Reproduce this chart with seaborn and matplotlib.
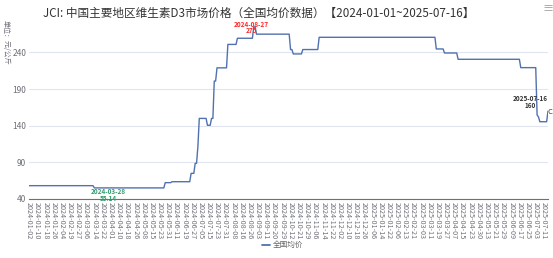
import numpy as np
import pandas as pd
import matplotlib
matplotlib.use("Agg")
import matplotlib.pyplot as plt
import seaborn as sns

# ---- data ----
tick_labels = ["2024-01-02","2024-01-10","2024-01-18","2024-01-26","2024-02-04","2024-02-19","2024-02-27",
               "2024-03-06","2024-03-14","2024-03-22","2024-04-01","2024-04-10","2024-04-18","2024-04-26",
               "2024-05-08","2024-05-15","2024-05-23","2024-05-31","2024-06-11","2024-06-19","2024-06-27",
               "2024-07-05","2024-07-15","2024-07-23","2024-07-31","2024-08-08","2024-08-16","2024-08-26",
               "2024-09-03","2024-09-11","2024-09-20","2024-09-29","2024-10-12","2024-10-21","2024-10-29",
               "2024-11-06","2024-11-14","2024-11-22","2024-12-02","2024-12-10","2024-12-18","2024-12-26",
               "2025-01-06","2025-01-14","2025-01-22","2025-02-06","2025-02-13","2025-02-21","2025-03-03",
               "2025-03-11","2025-03-19","2025-03-27","2025-04-07","2025-04-15","2025-04-23","2025-04-30",
               "2025-05-13","2025-05-21","2025-05-29","2025-06-09","2025-06-17","2025-06-25","2025-07-03",
               "2025-07-11"]
tick_step = 6  # trading days between labelled dates

# price runs: value held for a number of trading days (run-length of the step line)
run_values = [58.2, 55.14, 62.3, 63.6, 75.0, 88.7, 112.0, 150.0, 140.6, 150.0, 201.0, 219.0,
              251.0, 259.4, 275.0, 265.0, 244.0, 238.0, 244.0, 260.7, 244.8, 239.3, 230.7,
              219.3, 154.7, 152.0, 145.5, 160.0]
run_lengths = [48, 52, 5, 14, 3, 2, 1, 6, 3, 2, 2, 8,
               7, 12, 2, 25, 2, 7, 12, 86, 6, 10, 46,
               12, 1, 1, 6, 1]

max_label, max_value = "2024-08-27", 275
min_label, min_value = "2024-03-28", 55.14
last_label, last_value = "2025-07-16", 160
series_name = "全国均价"

prices = np.repeat(run_values, run_lengths)
df = pd.DataFrame({"idx": np.arange(len(prices)), "price": prices, "series": series_name})

# ---- style ----
sns.set_theme(style="white")
plt.rcParams["font.family"] = ["Noto Sans CJK SC", "DejaVu Sans"]

W, H = 553, 258
fig = plt.figure(figsize=(W / 100, H / 100), dpi=100)
left, right, bottom, top = 29, 548, 199, 25
ax = fig.add_axes([left / W, 1 - bottom / H, (right - left) / W, (bottom - top) / H])

line_color = "#5171b0"
sns.lineplot(data=df, x="idx", y="price", ax=ax, color=line_color, linewidth=1.0, legend=False)

ax.set_xlim(0, len(prices) - 1)
ax.set_ylim(40, 277.5)
ax.set_yticks([40, 90, 140, 190, 240])
ax.set_xticks(np.arange(len(tick_labels)) * tick_step)
ax.set_xticklabels(tick_labels, rotation=-90, fontsize=5.2, color="#6e7079")
ax.tick_params(axis="y", labelsize=6, colors="#6e7079", length=0, pad=2)
ax.tick_params(axis="x", length=0, pad=2)
ax.set_xlabel("")
ax.set_ylabel("")
ax.grid(axis="y", color="#e0e6f1", linewidth=0.8)
ax.grid(axis="x", visible=False)
for s in ["top", "right", "left"]:
    ax.spines[s].set_visible(False)
ax.spines["bottom"].set_color("#6e7079")
ax.spines["bottom"].set_linewidth(0.8)

# ---- mark points ----
ix_max = int(np.argmax(prices)) - 2
ix_min = (tick_labels.index("2024-03-22")) * tick_step + 4
ix_last = len(prices) - 1
ax.annotate(f"{max_label}\n{max_value}", (ix_max, max_value), xytext=(0, -0.5), textcoords="offset points",
            ha="center", va="center", fontsize=4.6, color="#ff2a2a", fontweight="bold",
            linespacing=0.95, annotation_clip=False)
ax.annotate(f"{min_label}\n{min_value}", (ix_min, min_value), xytext=(0, -0.3), textcoords="offset points",
            ha="center", va="top", fontsize=4.6, color="#2e9e6b", fontweight="bold",
            linespacing=0.95, annotation_clip=False)
ax.annotate(f"{last_label}\n{last_value}", (ix_last, last_value), xytext=(-12.5, 6.5), textcoords="offset points",
            ha="center", va="center", fontsize=4.6, color="#333333", fontweight="bold",
            linespacing=0.95, annotation_clip=False)
fig.text(547.5 / W, 1 - 112 / H, "C", ha="left", va="center", fontsize=5.5, color="#333333")

# ---- titles / labels ----
fig.text(259 / W, 1 - 13 / H, "JCI: 中国主要地区维生素D3市场价格（全国均价数据）【2024-01-01~2025-07-16】",
         ha="center", va="center", fontsize=8.4, color="#333333")
fig.text(6 / W, 1 - 42 / H, "单位：元/公斤", rotation=-90, ha="center", va="center", fontsize=5, color="#6e7079")
fig.text(548 / W, 1 - 9 / H, "≡", ha="center", va="center", fontsize=8, color="#999999")

# legend
fig.lines.append(plt.Line2D([262 / W, 270 / W], [1 - 245 / H, 1 - 245 / H], transform=fig.transFigure,
                            color=line_color, linewidth=1.3))
fig.text(273 / W, 1 - 245 / H, series_name, ha="left", va="center", fontsize=5.5, color="#666666")

fig.savefig("out.png", dpi=100)
